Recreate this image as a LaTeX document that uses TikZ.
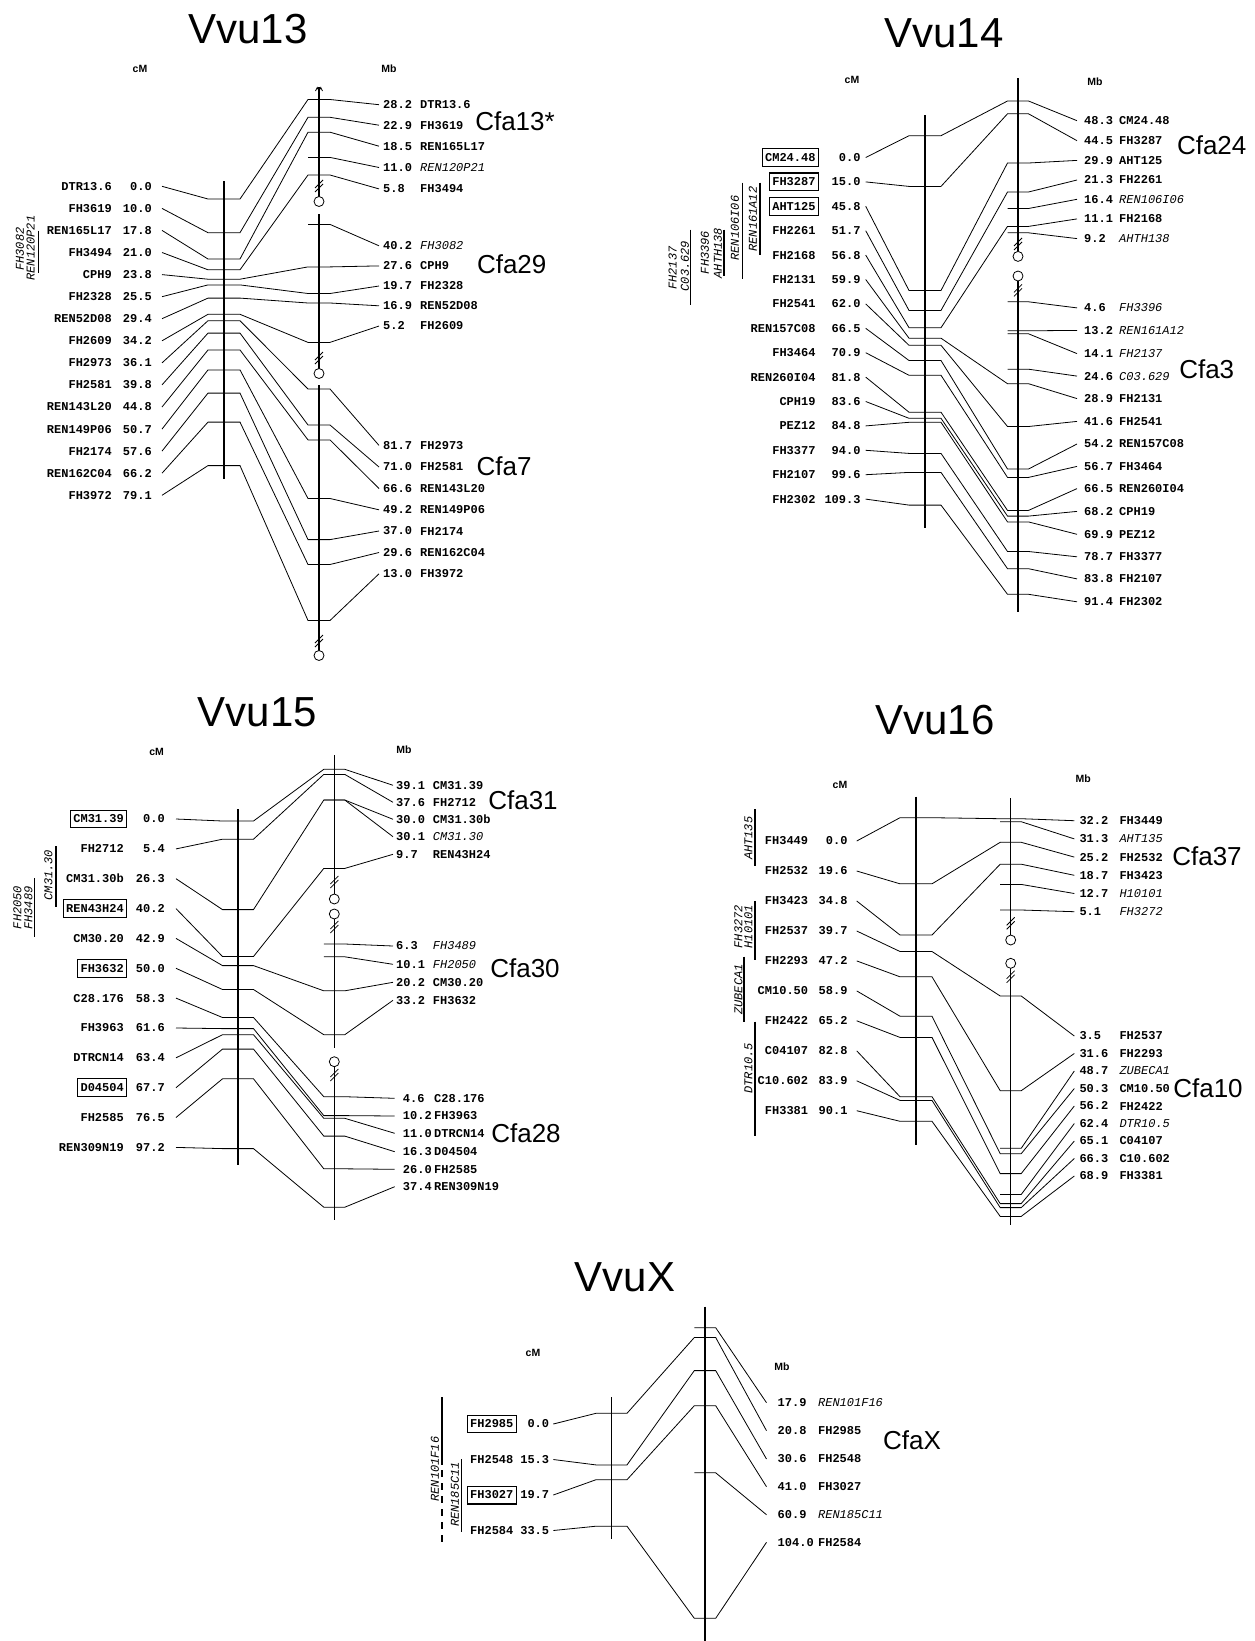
\documentclass[tikz,border=0pt]{standalone}
\usepackage{fontspec}
\setmainfont{Liberation Sans}
\newfontfamily\monof{Liberation Mono}
\usetikzlibrary{fit}
\tikzset{
 lab/.style={font=\monof\bfseries\fontsize{12}{12}\selectfont, inner sep=0pt},
 itl/.style={font=\monof\itshape\fontsize{12}{12}\selectfont, inner sep=0pt},
 con/.style={line width=0.8pt},
 chrom/.style={line width=1.3pt},
 bar/.style={line width=1.4pt},
 boxf/.style={draw, line width=1.2pt, inner xsep=2.8pt, inner ysep=4.6pt},
 ttl/.style={font=\fontsize{42}{42}\selectfont, inner sep=0pt},
 cfa/.style={font=\fontsize{26}{26}\selectfont, inner sep=0pt},
 axl/.style={font=\bfseries\fontsize{10.5}{10.5}\selectfont, inner sep=0pt},
}
\newcommand\setpanel[9]{\def\pXN{#1}\def\pXV{#2}\def\pGL{#3}\def\pXL{#4}\def\pHL{#5}\def\pXR{#6}\def\pHR{#7}\def\pRV{#8}\def\pRN{#9}}
% id, name, cM, rowL, markL, markR, rowR, Mb
\newcommand\mkr[8]{%
 \node[lab,anchor=east] (ln#1) at (\pXN,#4) {#2};
 \node[lab,anchor=east] (lv#1) at (\pXV,#4) {#3};
 \node[lab,anchor=west] (rv#1) at (\pRV,#7) {#8};
 \node[lab,anchor=west] (rn#1) at (\pRN,#7) {#2};
 \draw[con] ([xshift=\pGL pt]lv#1.east) -- ({\pXL-\pHL},#5) -- ({\pXL+\pHL},#5) -- ({\pXR-\pHR},#6) -- ({\pXR+\pHR},#6) -- ([xshift=-\pGR pt]rv#1.west);
}
% id, markR, rowR, Mb, name
\newcommand\tkr[5]{%
 \node[lab,anchor=west] (rv#1) at (\pRV,#3) {#4};
 \node[itl,anchor=west] (rn#1) at (\pRN,#3) {#5};
 \draw[con] ({\pXR-\pHR},#2) -- ({\pXR+\pHR},#2) -- ([xshift=-\pGR pt]rv#1.west);
}
\newcommand\brkm[2]{\draw[con] ({#1-4},{#2+2}) -- ({#1+4},{#2-6}) ({#1-4},{#2+6}) -- ({#1+4},{#2-2});}
\newcommand\cenm[2]{\draw[con,fill=white] (#1,#2) circle (5pt);}
\begin{document}
\begin{tikzpicture}[x=1pt,y=-1pt]
\fill[white] (0,0) rectangle (1255,1641);
\useasboundingbox (0,0) rectangle (1255,1641);

% ================= Vvu13 =================
\node[ttl] (t13) at (248,29) {Vvu13};
\node[axl] (cm13) at (140,69) {cM};
\node[axl] (mb13) at (389,69) {Mb};
\node[cfa] (cf13) at (515,121.3) {Cfa13*};
\node[cfa] (cf29) at (511.7,264.3) {Cfa29};
\node[cfa] (cf7) at (504,466) {Cfa7};
\draw[chrom] (224,181) -- (224,479);
\draw[chrom] (319,87) -- (319,196.5);
\draw[chrom] (319,214) -- (319,368.5);
\draw[chrom] (319,385) -- (319,650.5);
\draw[con] (315.5,91) -- (317.2,87.5) -- (319,91) -- (320.8,87.5) -- (322.5,91);
\brkm{319}{186}\cenm{319}{201.5}
\brkm{319}{358}\cenm{319}{373.5}
\brkm{319}{641}\cenm{319}{655.5}
\setpanel{112}{152}{10}{224}{16}{319}{11}{383}{420}\def\pGR{4}
\mkr{a1}{DTR13.6}{0.0}{186.3}{199.0}{99.5}{104.7}{28.2}
\mkr{a2}{FH3619}{10.0}{208.4}{232.7}{117.3}{125.2}{22.9}
\mkr{a3}{REN165L17}{17.8}{230.4}{259.0}{132.2}{146.2}{18.5}
\tkr{a4}{157.4}{167.5}{11.0}{REN120P21}
\mkr{a5}{FH3494}{21.0}{252.5}{269.8}{175.0}{188.9}{5.8}
\tkr{a6}{224.4}{245.8}{40.2}{FH3082}
\mkr{a7}{CPH9}{23.8}{274.6}{279.2}{266.9}{265.9}{27.6}
\mkr{a8}{FH2328}{25.5}{296.7}{284.9}{293.5}{286.0}{19.7}
\mkr{a9}{REN52D08}{29.4}{318.7}{298.1}{303.0}{305.8}{16.9}
\mkr{a10}{FH2609}{34.2}{340.8}{314.3}{342.4}{326.0}{5.2}
\mkr{a11}{FH2973}{36.1}{362.9}{320.7}{389.0}{445.4}{81.7}
\mkr{a12}{FH2581}{39.8}{384.9}{333.1}{425.0}{467.0}{71.0}
\mkr{a13}{REN143L20}{44.8}{407.0}{350.0}{439.9}{488.5}{66.6}
\mkr{a14}{REN149P06}{50.7}{429.1}{369.9}{498.5}{509.8}{49.2}
\mkr{a15}{FH2174}{57.6}{451.1}{393.1}{539.6}{531.0}{37.0}
\mkr{a16}{REN162C04}{66.2}{473.2}{422.1}{564.5}{552.5}{29.6}
\mkr{a17}{FH3972}{79.1}{495.3}{465.6}{620.5}{573.8}{13.0}
\node[itl,rotate=90] (ra1) at (20,249) {FH3082};
\node[itl,rotate=90] (ra2) at (30.7,248) {REN120P21};
\draw[bar] (38.3,230.7) -- (38.3,273.3);

% ================= Vvu14 =================
\node[ttl] (t14) at (944,33.5) {Vvu14};
\node[axl] (cm14) at (852,80) {cM};
\node[axl] (mb14) at (1095,82) {Mb};
\node[cfa] (cf24) at (1211.7,145.7) {Cfa24};
\node[cfa] (cf3) at (1206.7,369) {Cfa3};
\draw[chrom] (925,115) -- (925,528);
\draw[chrom] (1018,78) -- (1018,251.4);
\draw[chrom] (1018,281) -- (1018,612);
\brkm{1018}{244}\cenm{1018}{256.4}
\cenm{1018}{276}\brkm{1018}{290.4}
\setpanel{815.7}{860.7}{5}{925}{16}{1018}{10.5}{1084}{1119}\def\pGR{7}
\mkr{b1}{CM24.48}{0.0}{157.5}{135.7}{101.0}{120.7}{48.3}
\mkr{b2}{FH3287}{15.0}{181.9}{186.4}{113.8}{140.7}{44.5}
\mkr{b3}{AHT125}{45.8}{206.3}{290.5}{163.0}{160.4}{29.9}
\mkr{b4}{FH2261}{51.7}{230.7}{310.4}{192.0}{180.0}{21.3}
\tkr{b5}{208.5}{199.3}{16.4}{REN106I06}
\mkr{b6}{FH2168}{56.8}{255.1}{327.7}{226.4}{218.9}{11.1}
\tkr{b7}{232.8}{238.6}{9.2}{AHTH138}
\tkr{b8}{301.8}{307.9}{4.6}{FH3396}
\tkr{b9}{330.8}{330.4}{13.2}{REN161A12}
\tkr{b10}{333.8}{353.6}{14.1}{FH2137}
\tkr{b11}{369.2}{376.1}{24.6}{C03.629}
\mkr{b12}{FH2131}{59.9}{279.5}{338.2}{383.7}{398.6}{28.9}
\mkr{b13}{FH2541}{62.0}{303.9}{345.3}{426.5}{421.4}{41.6}
\mkr{b14}{REN157C08}{66.5}{328.3}{360.5}{469.0}{444.0}{54.2}
\mkr{b15}{FH3464}{70.9}{352.7}{375.3}{477.4}{466.4}{56.7}
\mkr{b16}{REN260I04}{81.8}{377.1}{412.2}{510.4}{488.6}{66.5}
\mkr{b17}{CPH19}{83.6}{401.5}{418.3}{516.1}{511.4}{68.2}
\mkr{b18}{PEZ12}{84.8}{425.9}{422.3}{521.9}{534.3}{69.9}
\mkr{b19}{FH3377}{94.0}{450.3}{453.4}{551.5}{556.8}{78.7}
\mkr{b20}{FH2107}{99.6}{474.7}{472.4}{568.7}{578.9}{83.8}
\mkr{b21}{FH2302}{109.3}{499.1}{505.1}{594.3}{601.8}{91.4}
\node[boxf,fit=(lnb1)] (bxb1) {};
\node[boxf,fit=(lnb2)] (bxb2) {};
\node[boxf,fit=(lnb3)] (bxb3) {};
\node[itl,rotate=90] (rb1) at (672.7,268) {FH2137};
\node[itl,rotate=90] (rb2) at (685,266) {C03.629};
\draw[bar] (690.7,229.6) -- (690.7,304.6);
\node[itl,rotate=90] (rb3) at (705,252.5) {FH3396};
\node[itl,rotate=90] (rb4) at (718,253) {AHTH138};
\draw[bar] (724,229.6) -- (724,276);
\node[itl,rotate=90] (rb5) at (735,228) {REN106I06};
\draw[bar] (742.3,182.5) -- (742.3,278.6);
\node[itl,rotate=90] (rb6) at (753,219) {REN161A12};
\draw[bar] (760,182.5) -- (760,254.6);

% ================= Vvu15 =================
\node[ttl] (t15) at (257.5,712) {Vvu15};
\node[axl] (cm15) at (156.7,752.3) {cM};
\node[axl] (mb15) at (404,750) {Mb};
\node[cfa] (cf31) at (523,800) {Cfa31};
\node[cfa] (cf30) at (525,968) {Cfa30};
\node[cfa] (cf28) at (526,1133) {Cfa28};
\draw[chrom] (238,809.3) -- (238,1165);
\draw[chrom] (334.3,755) -- (334.3,894);
\draw[chrom] (334.3,919) -- (334.3,1048.3);
\draw[chrom] (334.3,1066.7) -- (334.3,1220);
\brkm{334.3}{882}\cenm{334.3}{899}
\cenm{334.3}{914}\brkm{334.3}{927}
\cenm{334.3}{1061.7}\brkm{334.3}{1075}
\setpanel{124}{165}{11}{238}{15.5}{334.3}{10.5}{396}{432.7}\def\pGR{3}
\mkr{c1}{CM31.39}{0.0}{819.0}{821.0}{769.3}{785.3}{39.1}
\mkr{c2}{FH2712}{5.4}{848.9}{839.2}{774.4}{802.3}{37.6}
\mkr{c3}{CM31.30b}{26.3}{878.7}{909.6}{800.0}{819.3}{30.0}
\tkr{c4}{800.0}{836.7}{30.1}{CM31.30}
\mkr{c5}{REN43H24}{40.2}{908.6}{956.5}{868.4}{854.3}{9.7}
\tkr{c6}{944.0}{946.0}{6.3}{FH3489}
\tkr{c7}{956.8}{964.3}{10.1}{FH2050}
\mkr{c8}{CM30.20}{42.9}{938.4}{965.6}{990.8}{982.3}{20.2}
\mkr{c9}{FH3632}{50.0}{968.3}{989.5}{1034.7}{1000.3}{33.2}
\def\pRV{402.7}\def\pRN{434}\def\pGR{8}
\mkr{c10}{C28.176}{58.3}{998.1}{1017.5}{1096.7}{1098.3}{4.6}
\mkr{c11}{FH3963}{61.6}{1028.0}{1028.6}{1115.6}{1116.0}{10.2}
\mkr{c12}{DTRCN14}{63.4}{1057.8}{1034.7}{1118.3}{1133.3}{11.0}
\mkr{c13}{D04504}{67.7}{1087.7}{1049.1}{1136.1}{1151.7}{16.3}
\mkr{c14}{FH2585}{76.5}{1117.5}{1078.8}{1168.8}{1169.3}{26.0}
\mkr{c15}{REN309N19}{97.2}{1147.4}{1148.6}{1207.2}{1186.7}{37.4}
\node[boxf,fit=(lnc1)] (bxc1) {};
\node[boxf,fit=(lnc5)] (bxc5) {};
\node[boxf,fit=(lnc9)] (bxc9) {};
\node[boxf,fit=(lnc13)] (bxc13) {};
\node[itl,rotate=90] (rc1) at (48.3,875) {CM31.30};
\draw[bar] (56,846) -- (56,906.7);
\node[itl,rotate=90] (rc2) at (17.3,907.5) {FH2050};
\node[itl,rotate=90] (rc3) at (28.3,908) {FH3489};
\draw[bar] (34.3,878) -- (34.3,936.7);

% ================= Vvu16 =================
\node[ttl] (t16) at (935,720) {Vvu16};
\node[axl] (cm16) at (840,785) {cM};
\node[axl] (mb16) at (1083.3,778.3) {Mb};
\node[cfa] (cf37) at (1207,856.5) {Cfa37};
\node[cfa] (cf10) at (1208,1088.5) {Cfa10};
\draw[chrom] (916,796.7) -- (916,1145);
\draw[chrom] (1010.7,798.3) -- (1010.7,935);
\draw[chrom] (1010.7,968.3) -- (1010.7,1225);
\brkm{1010.7}{923.3}\cenm{1010.7}{940}
\cenm{1010.7}{963.3}\brkm{1010.7}{976.7}
\setpanel{808.3}{847.7}{9}{916}{16}{1010.7}{10.5}{1079.3}{1119.3}\def\pGR{5}
\mkr{d1}{FH3449}{0.0}{841.0}{817.7}{818.7}{820.7}{32.2}
\tkr{d2}{821.7}{838.9}{31.3}{AHT135}
\mkr{d3}{FH2532}{19.6}{871.0}{883.8}{842.3}{857.1}{25.2}
\mkr{d4}{FH3423}{34.8}{901.0}{935.0}{864.2}{875.3}{18.7}
\tkr{d5}{884.4}{893.5}{12.7}{H10101}
\tkr{d6}{910.0}{911.7}{5.1}{FH3272}
\mkr{d7}{FH2537}{39.7}{931.0}{951.5}{996.0}{1036.0}{3.5}
\mkr{d8}{FH2293}{47.2}{960.9}{976.8}{1090.7}{1053.5}{31.6}
\tkr{d9}{1148.3}{1071.0}{48.7}{ZUBECA1}
\mkr{d10}{CM10.50}{58.9}{990.9}{1016.2}{1153.7}{1088.5}{50.3}
\mkr{d11}{FH2422}{65.2}{1020.8}{1037.4}{1173.6}{1106.0}{56.2}
\tkr{d12}{1194.5}{1123.5}{62.4}{DTR10.5}
\mkr{d13}{C04107}{82.8}{1050.8}{1096.7}{1203.6}{1141.0}{65.1}
\mkr{d14}{C10.602}{83.9}{1080.8}{1100.4}{1207.6}{1158.5}{66.3}
\mkr{d15}{FH3381}{90.1}{1110.7}{1121.3}{1216.4}{1176.0}{68.9}
\node[itl,rotate=90] (rd1) at (748.3,838.3) {AHT135};
\draw[bar] (755,809.3) -- (755,866);
\node[itl,rotate=90] (rd2) at (738.3,926.7) {FH3272};
\node[itl,rotate=90] (rd3) at (748.3,926.7) {H10101};
\draw[bar] (755,901) -- (755,960);
\node[itl,rotate=90] (rd4) at (738.3,989.5) {ZUBECA1};
\draw[bar] (744,956.7) -- (744,1022.3);
\node[itl,rotate=90] (rd5) at (748.3,1068.3) {DTR10.5};
\draw[bar] (755,1021.7) -- (755,1136);

% ================= VvuX =================
\node[ttl] (tx) at (625,1277) {VvuX};
\node[axl] (cmx) at (533,1352.5) {cM};
\node[axl] (mbx) at (782,1366.5) {Mb};
\node[cfa] (cfx) at (912,1440.5) {CfaX};
\draw[chrom] (611.5,1397.3) -- (611.5,1539.3);
\draw[chrom] (705,1306.7) -- (705,1641);
\setpanel{513.6}{549.3}{4}{611.5}{15.5}{705}{10.7}{777.5}{817.9}\def\pGR{11}
\tkr{e1}{1327.7}{1402.7}{17.9}{REN101F16}
\mkr{e2}{FH2985}{0.0}{1424.0}{1413.3}{1337.5}{1430.7}{20.8}
\mkr{e3}{FH2548}{15.3}{1459.5}{1464.9}{1370.6}{1459.0}{30.6}
\mkr{e4}{FH3027}{19.7}{1495.0}{1479.7}{1405.7}{1486.7}{41.0}
\tkr{e5}{1472.8}{1514.7}{60.9}{REN185C11}
\mkr{e6}{FH2584}{33.5}{1530.5}{1526.2}{1618.3}{1542.3}{104.0}
\node[boxf,fit=(lne2)] (bxe2) {};
\node[boxf,fit=(lne4)] (bxe4) {};
\node[itl,rotate=90] (re1) at (435,1469) {REN101F16};
\draw[bar] (442,1397.3) -- (442,1465);
\draw[bar,dash pattern=on 7pt off 6pt] (442,1470) -- (442,1546.7);
\node[itl,rotate=90] (re2) at (455,1494.5) {REN185C11};
\draw[bar] (461.5,1459) -- (461.5,1531.7);
\end{tikzpicture}
\end{document}
